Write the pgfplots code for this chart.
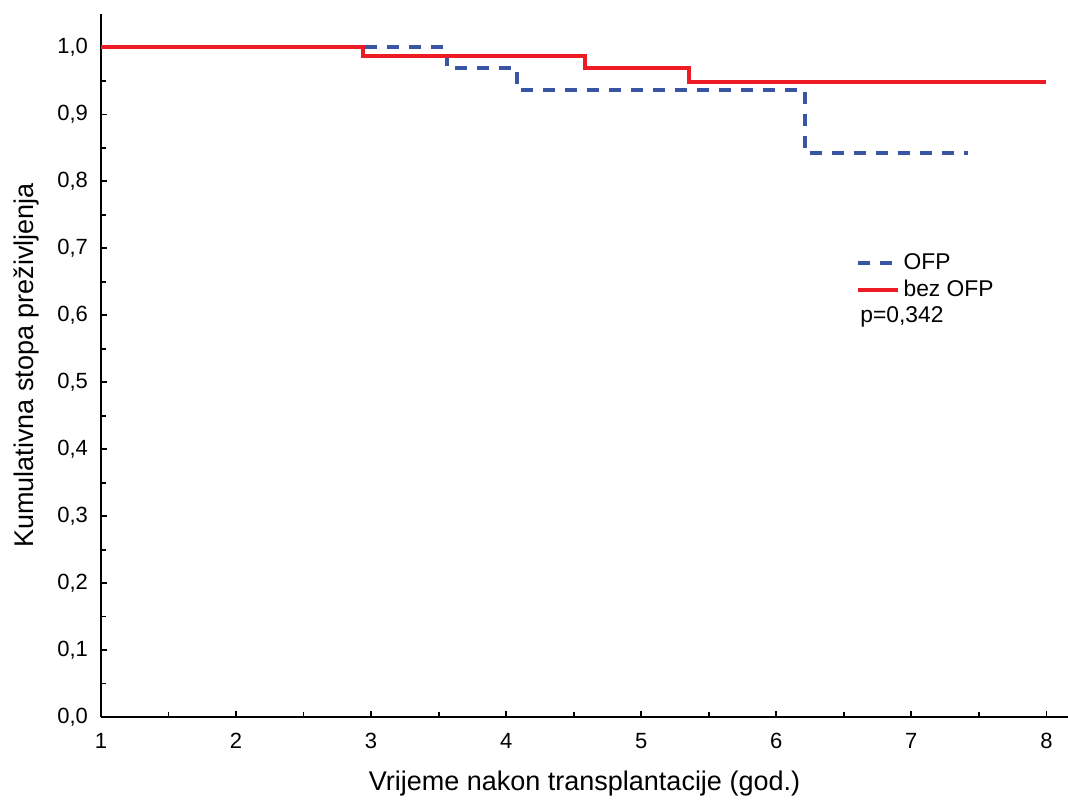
\documentclass[border=0pt]{standalone}
\usepackage{fontspec}
\setmainfont{Liberation Sans}
\usepackage{pgfplots}
\pgfplotsset{compat=1.18}
\definecolor{ofpblue}{RGB}{59,85,165}
\definecolor{bezred}{RGB}{237,28,36}
\begin{document}
\begin{tikzpicture}
\begin{axis}[
 scale only axis, width=483.5pt, height=351.5pt,
 xmin=1, xmax=8.16, ymin=0, ymax=1.05,
 axis x line*=bottom, axis y line*=left,
 axis line style={line width=1pt,-},
 xtick={1,2,3,4,5,6,7,8},
 xticklabels={1,2,3,4,5,6,7,8},
 ytick={0,0.1,0.2,0.3,0.4,0.5,0.6,0.7,0.8,0.9,1},
 yticklabels={{0,0},{0,1},{0,2},{0,3},{0,4},{0,5},{0,6},{0,7},{0,8},{0,9},{1,0}},
 minor x tick num=1, minor y tick num=1,
 tick align=inside, major tick length=3pt, minor tick length=2.5pt,
 tick style={line width=0.9pt, black},
 every tick label/.append style={font=\fontsize{11}{13}\selectfont},
 yticklabel style={xshift=-3pt},
 xticklabel style={yshift=-4.5pt},
 xlabel={Vrijeme nakon transplantacije (god.)},
 ylabel={Kumulativna stopa preživljenja},
 xlabel style={font=\fontsize{13.5}{16}\selectfont, at={(axis description cs:0.5,-0.0953)}, anchor=center},
 ylabel style={font=\fontsize{13.5}{16}\selectfont, at={(axis description cs:-0.0775,0.5)}, anchor=center},
 legend style={draw=none, fill=none, at={(axis cs:6.54,0.705)}, anchor=north west, font=\fontsize{11.4}{13.5}\selectfont},
 legend cell align=left,
 legend image code/.code={\draw[#1] (0pt,0pt) -- (20pt,0pt);},
]
\addplot[const plot, color=ofpblue, line width=2pt, dash pattern=on 6pt off 5pt] coordinates {
 (1,1.0) (3.56,0.970) (4.08,0.937) (6.21,0.843) (7.42,0.843)
};
\addlegendentry{OFP}
\addplot[const plot, color=bezred, line width=2pt] coordinates {
 (1,1.0) (2.94,0.987) (4.585,0.970) (5.35,0.948) (8.0,0.948)
};
\addlegendentry{bez OFP}
\node[anchor=west, font=\fontsize{11.4}{13.5}\selectfont, inner sep=0pt] at (axis cs:6.62,0.597) {p=0,342};
\end{axis}
\pgfresetboundingbox
\path (current axis.south west) ++(-50.5pt,-43.5pt) rectangle ([yshift=7pt]current axis.north east);
\end{tikzpicture}
\end{document}
